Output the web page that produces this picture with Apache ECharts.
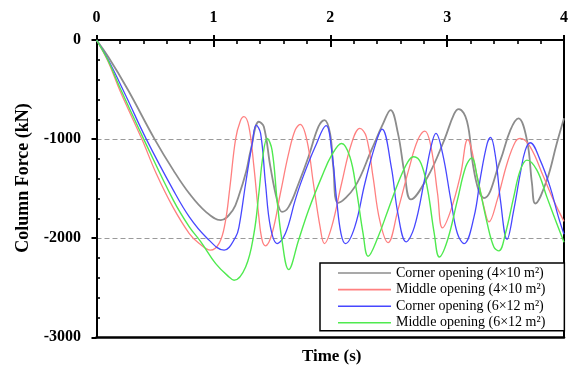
<!DOCTYPE html>
<html><head><meta charset="utf-8">
<script src="https://cdn.jsdelivr.net/npm/echarts@6/dist/echarts.min.js"></script>
<style>html,body{margin:0;padding:0;background:#fff}#c{width:571px;height:367px}</style>
</head><body><div id="c"></div>
<script>
// ---- data (time s, column force kN) ----
const seriesNames = ['Corner opening (4×10 m²)', 'Middle opening (4×10 m²)', 'Corner opening (6×12 m²)', 'Middle opening (6×12 m²)'];
const xTickLabels = [0, 1, 2, 3, 4];
const yTickLabels = [0, -1000, -2000, -3000];

const corner410T = [0,0.1,0.27,0.497,0.657,0.794,0.936,1.064,1.166,1.219,1.28,1.32,1.389,1.432,1.488,1.545,1.587,1.644,1.729,1.814,1.899,1.95,1.998,2.026,2.069,2.21,2.352,2.45,2.516,2.579,2.636,2.69,2.834,2.975,3.06,3.10,3.17,3.22,3.27,3.315,3.456,3.541,3.61,3.683,3.726,3.754,3.853,3.938,4.0];
const corner410V = [0,-170,-505,-1000,-1313,-1549,-1734,-1818,-1717,-1566,-1330,-1110,-825,-875,-1280,-1616,-1734,-1684,-1448,-1178,-875,-808,-940,-1280,-1643,-1482,-1111,-850,-707,-940,-1347,-1609,-1380,-1010,-745,-697,-820,-1250,-1520,-1595,-1212,-909,-791,-1010,-1448,-1650,-1414,-1044,-790];

const middle410T = [0,0.1,0.2,0.388,0.511,0.653,0.794,0.879,0.975,1.05,1.10,1.14,1.19,1.23,1.262,1.304,1.347,1.389,1.417,1.446,1.502,1.573,1.644,1.70,1.743,1.80,1.856,1.913,1.95,2.012,2.097,2.182,2.253,2.309,2.366,2.423,2.494,2.579,2.678,2.749,2.81,2.862,2.918,2.96,3.032,3.117,3.175,3.258,3.315,3.358,3.428,3.513,3.584,3.626,3.711,3.825,3.91,4.0];
const middle410V = [0,-220,-510,-1000,-1347,-1684,-1953,-2054,-2121,-2050,-1850,-1500,-1000,-820,-774,-875,-1280,-1785,-2020,-2077,-1953,-1549,-1145,-909,-852,-1010,-1448,-1886,-2054,-1886,-1448,-1044,-892,-977,-1381,-1818,-2044,-1717,-1280,-1010,-920,-1078,-1549,-1896,-1717,-1347,-1005,-1381,-1684,-1835,-1616,-1246,-1027,-993,-1078,-1381,-1616,-1830];

const corner612T = [0,0.1,0.25,0.426,0.657,0.794,0.936,1.092,1.19,1.22,1.276,1.332,1.366,1.404,1.446,1.488,1.545,1.616,1.70,1.757,1.871,1.965,2.012,2.055,2.092,2.131,2.21,2.296,2.38,2.443,2.522,2.579,2.65,2.72,2.806,2.862,2.904,2.961,3.032,3.088,3.145,3.23,3.286,3.343,3.371,3.414,3.456,3.513,3.57,3.626,3.669,3.711,3.796,3.881,3.952,4.0];
const corner612V = [0,-200,-560,-1000,-1515,-1785,-1987,-2121,-1990,-1880,-1448,-1044,-859,-943,-1448,-1886,-2054,-1953,-1616,-1414,-1078,-865,-1111,-1616,-1953,-2054,-1886,-1448,-1078,-899,-1280,-1751,-2037,-1886,-1414,-1078,-943,-1145,-1616,-1953,-2054,-1785,-1381,-1044,-983,-1178,-1616,-2010,-1717,-1347,-1111,-1037,-1212,-1482,-1785,-1960];

const middle612T = [0,0.1,0.2,0.404,0.657,0.794,0.893,1.02,1.134,1.177,1.276,1.347,1.389,1.423,1.46,1.502,1.545,1.587,1.644,1.729,1.814,1.927,2.012,2.097,2.168,2.224,2.281,2.324,2.409,2.494,2.579,2.664,2.715,2.777,2.834,2.89,2.933,3.003,3.088,3.159,3.21,3.26,3.343,3.4,3.443,3.499,3.57,3.626,3.683,3.768,3.853,3.938,4.0];
const middle612V = [0,-210,-480,-1000,-1616,-1886,-2037,-2256,-2391,-2424,-2290,-1953,-1549,-1178,-993,-1111,-1616,-2020,-2316,-2020,-1717,-1381,-1162,-1044,-1178,-1515,-1953,-2182,-1987,-1717,-1448,-1229,-1178,-1246,-1515,-1953,-2189,-2020,-1616,-1280,-1189,-1400,-1850,-2088,-2128,-1953,-1583,-1313,-1212,-1313,-1583,-1852,-2040];

const seriesT = [corner410T, middle410T, corner612T, middle612T];
const seriesV = [corner410V, middle410V, corner612V, middle612V];
const seriesColors = ['#8c8c8c', '#ff8080', '#4747ff', '#4fea4f'];
const seriesWidths = [1.8, 1.3, 1.3, 1.4];

const FONT = '"Liberation Serif", "Times New Roman", serif';
const xMin = Math.min(...xTickLabels), xMax = Math.max(...xTickLabels);
const yMin = Math.min(...yTickLabels), yMax = Math.max(...yTickLabels);
const zip = (t, v) => t.map((x, i) => [x, v[i]]);

const chart = echarts.init(document.getElementById('c'), null, {renderer: 'canvas'});
const baseX = {type: 'value', min: xMin, max: xMax, interval: 1, gridIndex: 0, splitLine: {show: false}};
const baseY = {type: 'value', min: yMin, max: yMax, interval: 1000, gridIndex: 0};

chart.setOption({
  animation: false,
  backgroundColor: '#fff',
  grid: {left: 96.5, right: 3.7, top: 40, bottom: 29.7, containLabel: false},
  xAxis: [
    Object.assign({}, baseX, {
      position: 'top',
      axisLine: {show: true, onZero: false, lineStyle: {color: '#000', width: 2}},
      axisTick: {show: true, inside: true, length: 7, lineStyle: {color: '#000', width: 2}},
      minorTick: {show: true, splitNumber: 5, length: 4, lineStyle: {color: '#000', width: 1.6}},
      axisLabel: {show: true, margin: 14, showMinLabel: true, showMaxLabel: true, color: '#000', fontFamily: FONT, fontWeight: 'bold', fontSize: 16,
                  formatter: v => String(v)}
    }),
    Object.assign({}, baseX, {
      position: 'bottom',
      axisLine: {show: true, onZero: false, lineStyle: {color: '#000', width: 2.6}},
      axisTick: {show: false}, axisLabel: {show: false}
    }),
    Object.assign({}, baseX, {
      position: 'top',
      axisLine: {show: false},
      axisTick: {show: true, inside: false, length: 5, lineStyle: {color: '#000', width: 2}},
      axisLabel: {show: false}
    })
  ],
  yAxis: [
    Object.assign({}, baseY, {
      position: 'left',
      axisLine: {show: true, onZero: false, lineStyle: {color: '#000', width: 2}},
      axisTick: {show: true, inside: true, length: 0, lineStyle: {color: '#000', width: 2}},
      minorTick: {show: true, splitNumber: 5, length: 3.5, lineStyle: {color: '#000', width: 1.6}},
      splitLine: {show: true, lineStyle: {color: ['rgba(0,0,0,0)', '#9a9a9a', '#9a9a9a', 'rgba(0,0,0,0)'], width: 1, type: [5, 3]}},
      axisLabel: {show: true, margin: 15.5, showMinLabel: true, showMaxLabel: true, color: '#000', fontFamily: FONT, fontWeight: 'bold', fontSize: 16,
                  formatter: v => String(v)}
    }),
    Object.assign({}, baseY, {
      position: 'right',
      axisLine: {show: true, onZero: false, lineStyle: {color: '#000', width: 2}},
      axisTick: {show: false}, axisLabel: {show: false}, splitLine: {show: false}
    }),
    Object.assign({}, baseY, {
      position: 'left',
      axisLine: {show: false},
      axisTick: {show: true, inside: false, length: 5, lineStyle: {color: '#000', width: 2}},
      axisLabel: {show: false}, splitLine: {show: false}
    })
  ],
  legend: {
    show: true, orient: 'vertical', left: 320, top: 263,
    padding: [3, 19, 1, 18], itemGap: 2.6, itemWidth: 53, itemHeight: 1.6, icon: 'rect',
    borderColor: '#000', borderWidth: 1.5, borderRadius: 0, backgroundColor: '#fff',
    textStyle: {fontFamily: FONT, fontSize: 14, color: '#000', lineHeight: 14},
    data: seriesNames
  },
  graphic: [
    {type: 'text', x: 23, y: 178, rotation: Math.PI / 2, z: 10,
     style: {text: 'Column Force (kN)', fontFamily: FONT, fontWeight: 'bold', fontSize: 18, fill: '#000',
             align: 'center', verticalAlign: 'middle', textAlign: 'center', textVerticalAlign: 'middle'}},
    {type: 'text', x: 331.7, y: 357, z: 10,
     style: {text: 'Time (s)', fontFamily: FONT, fontWeight: 'bold', fontSize: 17, fill: '#000',
             align: 'center', verticalAlign: 'middle', textAlign: 'center', textVerticalAlign: 'middle'}}
  ],
  series: seriesNames.map((name, i) => ({
    name: name, type: 'line', xAxisIndex: 0, yAxisIndex: 0,
    data: zip(seriesT[i], seriesV[i]),
    smooth: 0.4, symbol: 'none', showSymbol: false, clip: true,
    lineStyle: {color: seriesColors[i], width: seriesWidths[i]},
    itemStyle: {color: seriesColors[i]},
    emphasis: {disabled: true}
  }))
});
</script>
</body></html>
